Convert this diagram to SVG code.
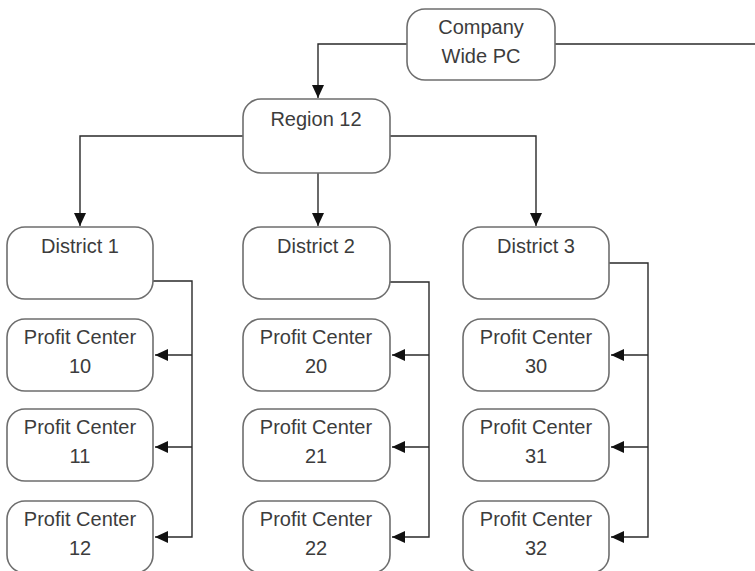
<svg xmlns="http://www.w3.org/2000/svg" width="755" height="571" viewBox="0 0 755 571">
<defs>
<style>
.box{fill:#fff;stroke:#6e6e6e;stroke-width:1.6}
.t{font-family:"Liberation Sans",Arial,sans-serif;font-size:20px;fill:#3c3c3c;text-anchor:middle}
.c{fill:none;stroke:#2a2a2a;stroke-width:1.4}
</style>
<marker id="ah" viewBox="0 0 13 12" refX="13" refY="6" markerWidth="13" markerHeight="12" markerUnits="userSpaceOnUse" orient="auto">
<path d="M0,0 L13,6 L0,12 Z" fill="#111"/>
</marker>
</defs>
<rect width="755" height="571" fill="#fff"/>
<g id="connectors">
<path class="c" d="M407,44 H318 V98" marker-end="url(#ah)"/>
<path class="c" d="M555,44 H755"/>
<path class="c" d="M243,136 H80 V226" marker-end="url(#ah)"/>
<path class="c" d="M318,173 V226" marker-end="url(#ah)"/>
<path class="c" d="M390,136 H536 V226" marker-end="url(#ah)"/>
<path class="c" d="M153,281 H192 V537 H155" marker-end="url(#ah)"/>
<path class="c" d="M192,355 H155" marker-end="url(#ah)"/>
<path class="c" d="M192,447 H155" marker-end="url(#ah)"/>
<path class="c" d="M390,282 H429 V537 H392" marker-end="url(#ah)"/>
<path class="c" d="M429,355 H392" marker-end="url(#ah)"/>
<path class="c" d="M429,447 H392" marker-end="url(#ah)"/>
<path class="c" d="M609,263 H648 V537 H611" marker-end="url(#ah)"/>
<path class="c" d="M648,355 H611" marker-end="url(#ah)"/>
<path class="c" d="M648,447 H611" marker-end="url(#ah)"/>
</g>
<g id="company"><rect class="box" x="407" y="9" width="148" height="71" rx="18"/><text class="t" x="481" y="34">Company</text><text class="t" x="481" y="63">Wide PC</text></g>
<g id="region12"><rect class="box" x="243" y="99" width="147" height="74" rx="18"/><text class="t" x="316" y="126">Region 12</text></g>
<g id="district1"><rect class="box" x="7" y="227" width="146" height="72" rx="18"/><text class="t" x="80" y="253">District 1</text></g>
<g id="district2"><rect class="box" x="243" y="227" width="147" height="72" rx="18"/><text class="t" x="316" y="253">District 2</text></g>
<g id="district3"><rect class="box" x="463" y="227" width="146" height="72" rx="18"/><text class="t" x="536" y="253">District 3</text></g>
<g id="pc10"><rect class="box" x="7" y="319" width="146" height="72" rx="18"/><text class="t" x="80" y="344">Profit Center</text><text class="t" x="80" y="373">10</text></g>
<g id="pc11"><rect class="box" x="7" y="409" width="146" height="72" rx="18"/><text class="t" x="80" y="434">Profit Center</text><text class="t" x="80" y="463">11</text></g>
<g id="pc12"><rect class="box" x="7" y="501" width="146" height="72" rx="18"/><text class="t" x="80" y="526">Profit Center</text><text class="t" x="80" y="555">12</text></g>
<g id="pc20"><rect class="box" x="243" y="319" width="147" height="72" rx="18"/><text class="t" x="316" y="344">Profit Center</text><text class="t" x="316" y="373">20</text></g>
<g id="pc21"><rect class="box" x="243" y="409" width="147" height="72" rx="18"/><text class="t" x="316" y="434">Profit Center</text><text class="t" x="316" y="463">21</text></g>
<g id="pc22"><rect class="box" x="243" y="501" width="147" height="72" rx="18"/><text class="t" x="316" y="526">Profit Center</text><text class="t" x="316" y="555">22</text></g>
<g id="pc30"><rect class="box" x="463" y="319" width="146" height="72" rx="18"/><text class="t" x="536" y="344">Profit Center</text><text class="t" x="536" y="373">30</text></g>
<g id="pc31"><rect class="box" x="463" y="409" width="146" height="72" rx="18"/><text class="t" x="536" y="434">Profit Center</text><text class="t" x="536" y="463">31</text></g>
<g id="pc32"><rect class="box" x="463" y="501" width="146" height="72" rx="18"/><text class="t" x="536" y="526">Profit Center</text><text class="t" x="536" y="555">32</text></g>
</svg>
